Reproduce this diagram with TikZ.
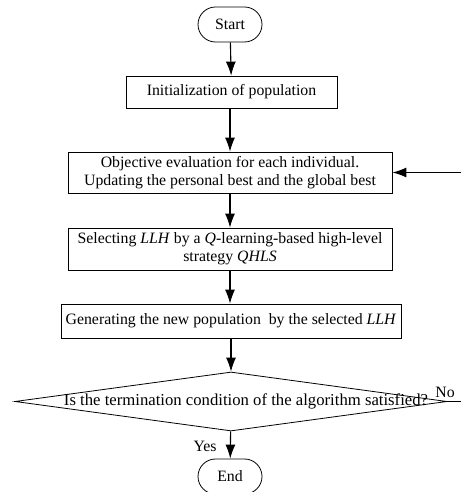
\documentclass[tikz,border=0pt]{standalone}
\usepackage{fontspec}
\setmainfont{Liberation Serif}
\usetikzlibrary{arrows.meta}
\usetikzlibrary{positioning}
\usetikzlibrary{shapes.geometric, shapes.misc}

\begin{document}
\begin{tikzpicture}[x=1pt,y=1pt,
  txt/.style={font=\fontsize{15.8}{18}\selectfont},
  term/.style={txt,rounded rectangle,draw,line width=0.8pt,minimum width=64pt,minimum height=35pt,inner sep=0pt},
  proc/.style={txt,rectangle,draw,line width=0.8pt,align=center,inner sep=0pt},
  flow/.style={line width=1.1pt,-{Latex[length=14pt,width=10pt]}}]
\useasboundingbox (0,0) rectangle (461,492);
\node[term] (start) at (230,467.5) {Start};
\node[proc,minimum width=211pt,minimum height=32pt] (init) at (231.5,400) {Initialization of population};
\node[proc,minimum width=324pt,minimum height=41pt] (eval) at (230,319.5) {Objective evaluation for each individual.\\Updating the personal best and the global best};
\node[proc,minimum width=324pt,minimum height=42pt] (select) at (230,243) {Selecting \textit{LLH} by a \textit{Q}-learning-based high-level\\strategy \textit{QHLS}};
\node[proc,minimum width=340pt,minimum height=34pt] (gen) at (231,171) {Generating the new population~ by the selected \textit{LLH}};
\node[diamond,draw,line width=0.8pt,minimum width=432pt,minimum height=59pt,inner sep=0pt] (cond) at (231,90.5) {};
\node[font=\fontsize{16.7}{20}\selectfont] (condtext) at (246,90.5) {Is the termination condition of the algorithm satisfied?};
\node[term] (end) at (230,15.5) {End};

\coordinate (noend) at (461,90.5);
\coordinate (back) at (461,319.5);

\draw[flow] (start) -- (init);
\draw[flow] (init.south -| eval.north) -- (eval);
\draw[flow] (eval) -- (select);
\draw[flow] (select) -- (select |- gen.north);
\draw[flow] (gen.south -| cond.north) -- (cond);
\draw[flow] (cond) -- (end);
\draw[line width=0.8pt] (cond.east) -- (noend);
\draw[flow] (back) -- (eval);

\node[txt,anchor=base east,inner sep=0pt] (no) at (455,94) {No};
\node[txt] (yes) at (205,46) {Yes};
\end{tikzpicture}
\end{document}
